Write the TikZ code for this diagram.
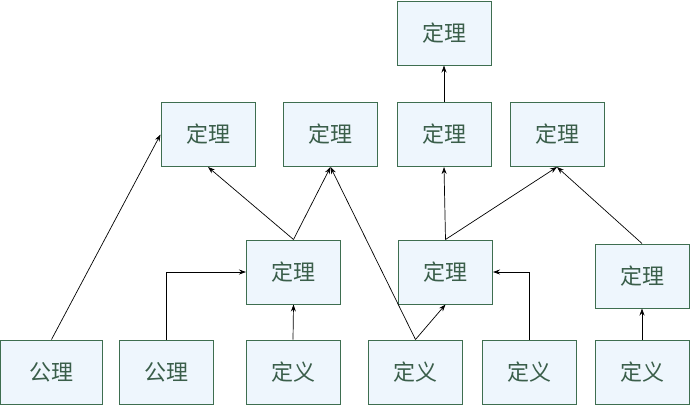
\documentclass[tikz,border=0pt]{standalone}
\usepackage{fontspec}
\newfontfamily\cjk{Noto Sans CJK SC}
\usetikzlibrary{arrows.meta}
\definecolor{boxfill}{HTML}{EEF6FD}
\definecolor{boxline}{HTML}{3E6E50}
\definecolor{boxtext}{HTML}{3A5E4A}
\tikzset{
	box/.style={draw=boxline, line width=1pt, fill=boxfill, text=boxtext, minimum width=94pt, minimum height=64pt, inner sep=0pt, font=\cjk\fontsize{22}{26}\selectfont},
	arr/.style={line width=0.7pt, -{Stealth[length=7pt,width=5pt]}}
}
\begin{document}
\begin{tikzpicture}[x=1pt, y=-1pt]
		%%%%% START %%%%%
		\useasboundingbox (0, 0) rectangle (690, 405);
		
		\node[box] (top) at (444, 33) {定理};
		
		\node[box] (thm1) at (208, 134.5) {定理};
		\node[box] (thm2) at (330.5, 134.5) {定理};
		\node[box] (thm3) at (444, 134.5) {定理};
		\node[box] (thm4) at (557, 134.5) {定理};
		
		\node[box] (thmA) at (293.5, 272) {定理};
		\node[box] (thmB) at (445.5, 272) {定理};
		\node[box] (thmC) at (642, 276) {定理};
		
		\node[box, minimum width=102pt] (ax1) at (51.5, 372) {公理};
		\node[box] (ax2) at (166, 372) {公理};
		\node[box] (def1) at (293, 372) {定义};
		\node[box] (def2) at (415.5, 372) {定义};
		\node[box] (def3) at (529, 372) {定义};
		\node[box] (def4) at (642, 372) {定义};
		
		\draw[arr] (ax1.north) -- (thm1.west);
		\draw[arr] (ax2.north) |- (thmA.west);
		\draw[arr] (def1.north) -- (thmA.south);
		\draw[arr] (thmA.north) -- (thm1.south);
		\draw[arr] (thmA.north) -- (thm2.south);
		\draw[arr] (def2.north) -- (thm2.south);
		\draw[arr] (def2.north) -- (thmB.south);
		\draw[arr] (def3.north) |- (thmB.east);
		\draw[arr] (thmB.north) -- (thm3.south);
		\draw[arr] (thmB.north) -- (thm4.south);
		\draw[arr] (thmC.north) -- (thm4.south);
		\draw[arr] (def4.north) -- (thmC.south);
		\draw[arr] (thm3.north) -- (top.south);
		
		%%%%% END %%%%%
	\end{tikzpicture}
\end{document}
